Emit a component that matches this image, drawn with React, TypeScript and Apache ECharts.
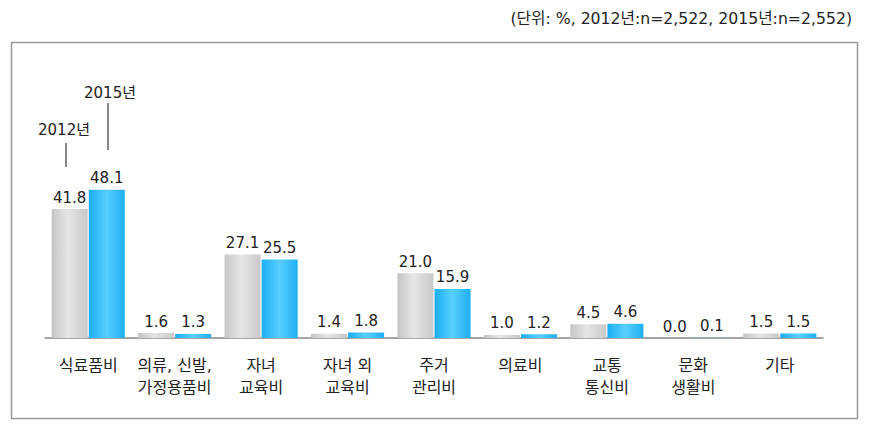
import React, { useEffect, useRef } from "react";
import * as echarts from "echarts";

const categories = [
  "식료품비",
  "의류, 신발,\n가정용품비",
  "자녀\n교육비",
  "자녀 외\n교육비",
  "주거\n관리비",
  "의료비",
  "교통\n통신비",
  "문화\n생활비",
  "기타",
];
const values2012 = [41.8, 1.6, 27.1, 1.4, 21.0, 1.0, 4.5, 0.0, 1.5];
const values2015 = [48.1, 1.3, 25.5, 1.8, 15.9, 1.2, 4.6, 0.1, 1.5];
const seriesNames = ["2012년", "2015년"];
const unitText = "(단위: %, 2012년:n=2,522, 2015년:n=2,552)";

const FONT = "'DejaVu Sans', 'Noto Sans CJK KR', sans-serif";

export default function App() {
  const ref = useRef<HTMLDivElement>(null);
  useEffect(() => {
    if (!ref.current) return;
    const chart = echarts.init(ref.current, undefined, { renderer: "svg" });
    const grayGrad = new echarts.graphic.LinearGradient(0, 0, 1, 0, [
      { offset: 0, color: "#c4c4c4" },
      { offset: 0.45, color: "#e6e6e6" },
      { offset: 1, color: "#c8c8c8" },
    ]);
    const blueGrad = new echarts.graphic.LinearGradient(0, 0, 1, 0, [
      { offset: 0, color: "#1aaef0" },
      { offset: 0.5, color: "#58cfff" },
      { offset: 1, color: "#1eaef0" },
    ]);
    const label = {
      show: true,
      position: "top" as const,
      distance: 4,
      color: "#222",
      fontSize: 15,
      fontFamily: FONT,
      formatter: (p: any) => Number(p.value).toFixed(1),
    };
    chart.setOption({
      animation: false,
      grid: { left: 45, right: 51, top: 153, bottom: 87, containLabel: false },
      xAxis: {
        type: "category",
        data: categories,
        axisLine: { lineStyle: { color: "#888", width: 1.5 } },
        axisTick: { show: false },
        axisLabel: {
          color: "#222",
          fontSize: 16,
          fontFamily: FONT,
          lineHeight: 22,
          margin: 16,
          interval: 0,
        },
      },
      yAxis: {
        type: "value",
        min: 0,
        max: 60,
        show: false,
        splitLine: { show: false },
      },
      series: [
        {
          name: seriesNames[0],
          type: "bar",
          data: values2012,
          barWidth: 36,
          barGap: "3%",
          itemStyle: { color: grayGrad },
          label,
        },
        {
          name: seriesNames[1],
          type: "bar",
          data: values2015,
          barWidth: 36,
          itemStyle: { color: blueGrad },
          label,
        },
      ],
      graphic: [
        {
          type: "rect",
          shape: { x: 11.5, y: 42.5, width: 846, height: 376 },
          style: { fill: "none", stroke: "#999", lineWidth: 1.5 },
          silent: true,
        },
        {
          type: "text",
          right: 22,
          top: 11,
          style: {
            text: unitText,
            fill: "#222",
            fontSize: 15.7,
            fontFamily: FONT,
          },
        },
        {
          type: "text",
          x: 64,
          y: 130,
          style: {
            text: seriesNames[0],
            fill: "#222",
            fontSize: 15,
            fontFamily: FONT,
            align: "center",
            verticalAlign: "middle",
          },
        },
        {
          type: "line",
          shape: { x1: 66, y1: 143, x2: 66, y2: 167 },
          style: { stroke: "#888", lineWidth: 2 },
        },
        {
          type: "text",
          x: 110,
          y: 93,
          style: {
            text: seriesNames[1],
            fill: "#222",
            fontSize: 15,
            fontFamily: FONT,
            align: "center",
            verticalAlign: "middle",
          },
        },
        {
          type: "line",
          shape: { x1: 108, y1: 103, x2: 108, y2: 150 },
          style: { stroke: "#888", lineWidth: 2 },
        },
      ],
    });
    return () => chart.dispose();
  }, []);
  return (
    <div
      ref={ref}
      style={{ position: "absolute", left: 0, top: 0, width: 874, height: 425 }}
    />
  );
}
